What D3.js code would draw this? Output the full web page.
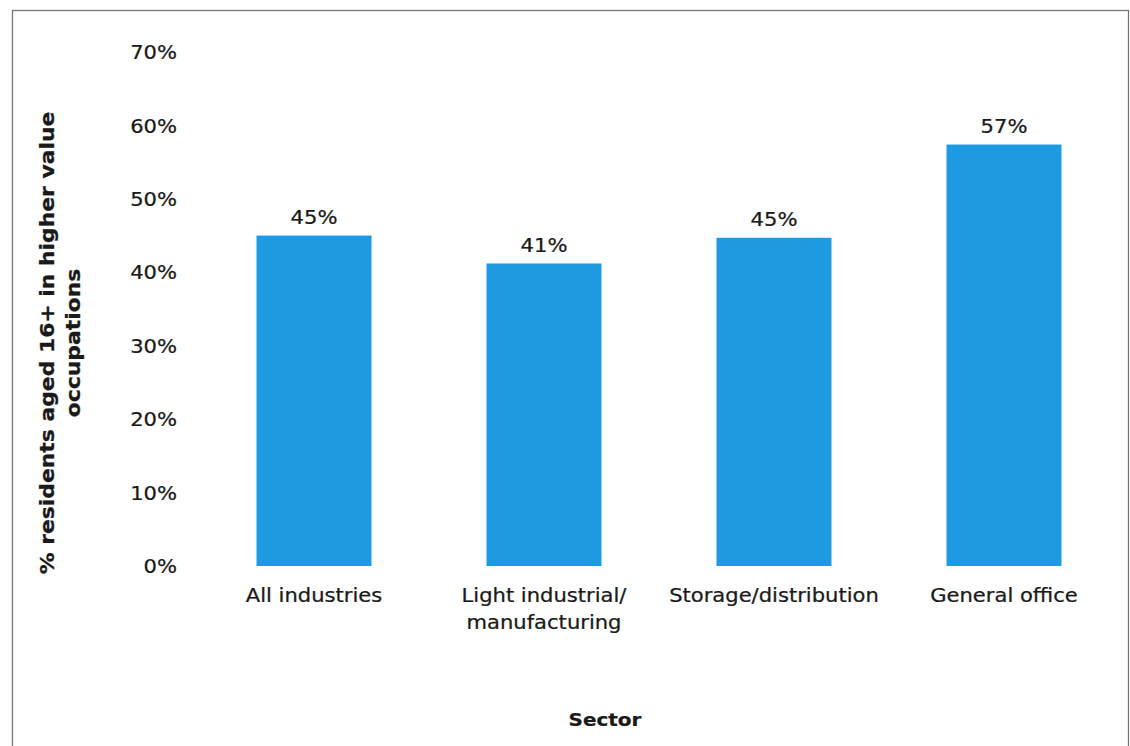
<!DOCTYPE html>
<html>
<head>
<meta charset="utf-8">
<script src="https://cdn.jsdelivr.net/npm/d3@7"></script>
<style>
  html, body { margin: 0; padding: 0; background: #fff; }
  svg { display: block; }
  text { font-family: "DejaVu Sans", Verdana, sans-serif; fill: #1a1a1a; stroke: #1a1a1a; stroke-width: 0.25px; }
</style>
</head>
<body>
<svg id="chart" width="1130" height="746"></svg>
<script>
// ---- data ----
const categories = ["All industries", "Light industrial/\nmanufacturing", "Storage/distribution", "General office"];
const values = [0.450, 0.412, 0.447, 0.574];
const yTicks = [0, 0.1, 0.2, 0.3, 0.4, 0.5, 0.6, 0.7];
const yTitleLines = ["% residents aged 16+ in higher value", "occupations"];
const xTitle = "Sector";

// ---- layout ----
const SX = 1.11; // horizontal stretch of the scanned text
const FS = 19;
const svg = d3.select("#chart");

// frame
svg.append("rect")
  .attr("x", 12.5).attr("y", 10.5)
  .attr("width", 1116).attr("height", 760)
  .attr("fill", "none").attr("stroke", "#777").attr("stroke-width", 1.3);

const x = d3.scaleBand().domain(categories).range([199, 1119]).paddingInner(0.5).paddingOuter(0.25);
const y = d3.scaleLinear().domain([0, 0.7]).range([566, 52]);
const fmt = d3.format(".0%");

function stretchedText(sel, tx, ty, str, opts = {}) {
  const g = sel.append("g").attr("transform", `translate(${tx},${ty}) scale(${SX},1)`);
  return g.append("text")
    .attr("text-anchor", opts.anchor || "middle")
    .attr("dy", "0.35em")
    .style("font-size", (opts.size || FS) + "px")
    .style("font-weight", opts.weight || "normal")
    .text(str);
}

// y axis tick labels (axis generator, no line)
const yAxis = d3.axisLeft(y).tickValues(yTicks).tickFormat(fmt).tickSize(0).tickPadding(0);
const yg = svg.append("g").attr("transform", "translate(177,0)").call(yAxis);
yg.select(".domain").remove();
yg.selectAll(".tick text")
  .attr("transform", `scale(${SX},1)`)
  .attr("x", 0)
  .attr("dy", "0.35em")
  .style("font-size", FS + "px")
  .style("font-family", "'DejaVu Sans', Verdana, sans-serif")
  .attr("fill", "#1a1a1a");

// bars
svg.append("g").selectAll("rect")
  .data(categories)
  .join("rect")
  .attr("x", d => x(d))
  .attr("width", x.bandwidth())
  .attr("y", (d, i) => y(values[i]))
  .attr("height", (d, i) => y(0) - y(values[i]))
  .attr("fill", "#1e9ae2");

// value labels
categories.forEach((c, i) => {
  stretchedText(svg, x(c) + x.bandwidth() / 2, y(values[i]) - 18, fmt(values[i]));
});

// category labels
categories.forEach(c => {
  c.split("\n").forEach((line, j) => {
    stretchedText(svg, x(c) + x.bandwidth() / 2, 595 + j * 27, line);
  });
});

// x axis title
stretchedText(svg, 605, 720, xTitle, { weight: "bold", size: 18 });

// y axis title
yTitleLines.forEach((line, j) => {
  svg.append("text")
    .attr("transform", `translate(${47 + j * 26},343) rotate(-90) scale(1.215,${SX})`)
    .attr("text-anchor", "middle")
    .attr("dy", "0.35em")
    .style("font-size", "18px")
    .style("font-weight", "bold")
    .text(line);
});
</script>
</body>
</html>
